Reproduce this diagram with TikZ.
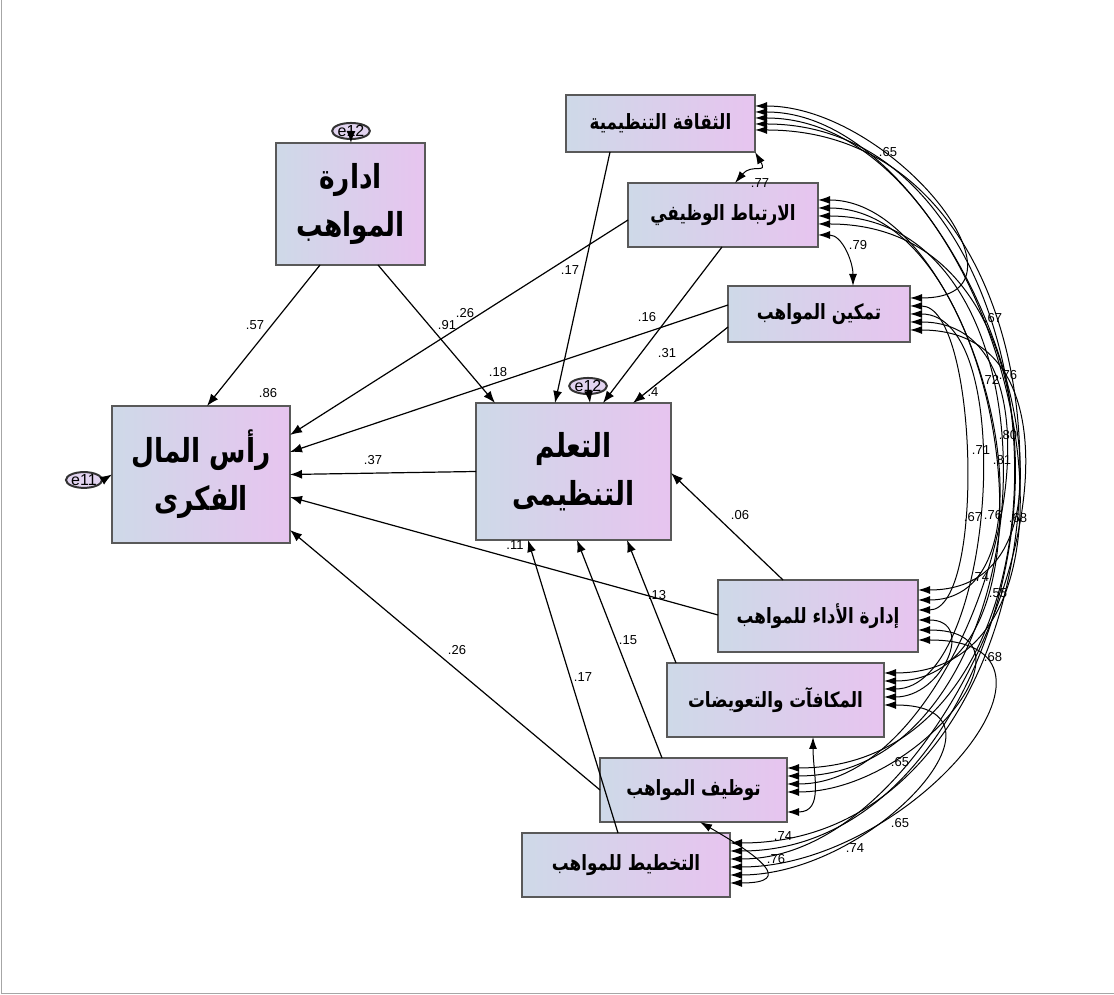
\documentclass[tikz,border=0pt]{standalone}
\usepackage{fontspec}
\setmainfont{Liberation Sans}
\newfontfamily\arabicfont[Script=Arabic,FakeStretch=0.8]{DejaVu Sans}
\TeXXeTstate=1
\usepackage{xcolor}
\usepackage{tikz}
\usetikzlibrary{positioning,calc,shapes.geometric,arrows.meta}

\definecolor{boxleft}{RGB}{206,217,232}
\definecolor{boxright}{RGB}{231,196,239}
\definecolor{errfill}{RGB}{226,212,240}

\begin{document}
\begin{tikzpicture}[
  x=0.5pt, y=0.5pt,
  var/.style={draw=black!65, line width=1pt, left color=boxleft, right color=boxright,
    inner sep=0pt, outer sep=0pt, align=center,
    font=\arabicfont\bfseries\fontsize{10.5}{13}\selectfont},
  bigvar/.style={var, font=\arabicfont\bfseries\fontsize{16.5}{24}\selectfont},
  err/.style={ellipse, draw=black!80, line width=1pt, fill=errfill, inner sep=0pt,
    font=\fontsize{8}{8}\selectfont},
  reg/.style={-{Latex[length=6pt,width=4.5pt]}, line width=0.6pt},
  cov/.style={{Latex[length=6pt,width=4pt]}-{Latex[length=6pt,width=4pt]}, line width=0.5pt},
  coef/.style={font=\fontsize{6.5}{7}\selectfont, inner sep=0pt}
]

\useasboundingbox (0,0) rectangle (1114,995);
\draw[gray!70] (1,995) -- (1,2) -- (1114,2);

% Main variables
\node[bigvar, minimum width=74.5pt, minimum height=61pt] (idara) at (350.5,791) {\beginR ادارة\endR\\\beginR المواهب\endR};
\node[bigvar, minimum width=89pt, minimum height=68.5pt] (ras) at (201,520.5) {\beginR رأس المال\endR\\\beginR الفكرى\endR};
\node[bigvar, minimum width=97.5pt, minimum height=68.5pt] (taallum) at (573.5,523.5) {\beginR التعلم\endR\\\beginR التنظيمى\endR};

% Dimensions on the right
\node[var, minimum width=94.5pt, minimum height=28.5pt] (thaqafa) at (660.5,871.5) {\beginR الثقافة التنظيمية\endR};
\node[var, minimum width=95pt, minimum height=32pt] (irtibat) at (723,780) {\beginR الارتباط الوظيفي\endR};
\node[var, minimum width=91pt, minimum height=28pt] (tamkin) at (819,681) {\beginR تمكين المواهب\endR};
\node[var, minimum width=100pt, minimum height=36pt] (adaa) at (818,379) {\beginR إدارة الأداء للمواهب\endR};
\node[var, minimum width=108.5pt, minimum height=37pt] (makafaat) at (775.5,295) {\beginR المكافآت والتعويضات\endR};
\node[var, minimum width=93.5pt, minimum height=32pt] (tawzif) at (693.5,205) {\beginR توظيف المواهب\endR};
\node[var, minimum width=104pt, minimum height=32pt] (takhtit) at (626,130) {\beginR التخطيط للمواهب\endR};

% Error terms
\node[err] (e12a) at (351,864) {e12};
\node[err] (e11) at (84,515) {e11};
\node[err] (e12b) at (588,609) {e12};
\draw[reg] (e12a) -- (idara);
\draw[reg] (e11.east) -- (ras.west);
\draw[reg] (e12b) -- ($(taallum.north)+(16.5,0)$);

% Paths
\draw[reg] ($(idara.south)+(-30.5,0)$) -- ($(ras.north)+(6,0)$);
\draw[reg] ($(idara.south)+(27.5,0)$) -- ($(taallum.north)+(-78.5,0)$);
\draw[reg] ($(thaqafa.south)+(-50.5,0)$) -- ($(taallum.north)+(-18.5,0)$);
\draw[reg] ($(irtibat.west)+(0,-5)$) -- ($(ras.east)+(0,39.5)$);
\draw[reg] ($(irtibat.south)+(-1,0)$) -- ($(taallum.north)+(29.5,0)$);
\draw[reg] ($(tamkin.west)+(0,9)$) -- ($(ras.east)+(0,22.5)$);
\draw[reg] ($(tamkin.west)+(0,-13)$) -- ($(taallum.north)+(59.5,0)$);
\draw[reg] (taallum.west) -- (ras.east);
\draw[reg] ($(adaa.north)+(-35,0)$) -- ($(taallum.east)+(0,-1.5)$);
\draw[reg] ($(adaa.west)+(0,1)$) -- ($(ras.east)+(0,-22.5)$);
\draw[reg] (tawzif.west) -- ($(ras.east)+(0,-55.5)$);
\draw[reg] ($(takhtit.north)+(-8,0)$) -- ($(taallum.south)+(-45.5,0)$);
\draw[reg] ($(tawzif.north)+(-31.5,0)$) -- ($(taallum.south)+(3.5,0)$);
\draw[reg] ($(makafaat.north)+(-99.5,0)$) -- ($(taallum.south)+(53.5,0)$);

% Covariances
\draw[cov] (thaqafa.south east) to[out=-60,in=50,looseness=1.8] ($(irtibat.north)+(12,0)$);
\draw[cov] ($(irtibat.east)+(0,-20)$) to[out=0,in=90,looseness=1] ($(tamkin.north)+(34,0)$);
\draw[cov] ($(makafaat.south)+(37.5,0)$) to[out=-90,in=0,looseness=1.2] ($(tawzif.east)+(0,-22)$);
\draw[cov] ($(tawzif.south)+(6.5,0)$) to[out=-30,in=0,looseness=2.5] ($(takhtit.east)+(0,-18)$);
\draw[cov] ($(thaqafa.east)+(0,17.5)$) to[out=0,in=0,looseness=1.41] ($(tamkin.east)+(0,16)$);
\draw[cov] ($(thaqafa.east)+(0,11.5)$) to[out=0,in=0,looseness=1.07] ($(adaa.east)+(0,26)$);
\draw[cov] ($(thaqafa.east)+(0,5.5)$) to[out=0,in=0,looseness=1.11] ($(makafaat.east)+(0,27)$);
\draw[cov] ($(thaqafa.east)+(0,-0.5)$) to[out=0,in=0,looseness=1.27] ($(tawzif.east)+(0,22)$);
\draw[cov] ($(thaqafa.east)+(0,-6.5)$) to[out=0,in=0,looseness=1.31] ($(takhtit.east)+(0,22)$);
\draw[cov] ($(irtibat.east)+(0,15)$) to[out=0,in=0,looseness=0.97] ($(adaa.east)+(0,16)$);
\draw[cov] ($(irtibat.east)+(0,7)$) to[out=0,in=0,looseness=1.01] ($(makafaat.east)+(0,19)$);
\draw[cov] ($(irtibat.east)+(0,-1)$) to[out=0,in=0,looseness=1.2] ($(tawzif.east)+(0,14)$);
\draw[cov] ($(irtibat.east)+(0,-9)$) to[out=0,in=0,looseness=1.26] ($(takhtit.east)+(0,14)$);
\draw[cov] ($(tamkin.east)+(0,8)$) to[out=0,in=0,looseness=0.57] ($(adaa.east)+(0,6)$);
\draw[cov] (tamkin.east) to[out=0,in=0,looseness=0.75] ($(makafaat.east)+(0,11)$);
\draw[cov] ($(tamkin.east)+(0,-8)$) to[out=0,in=0,looseness=1.01] ($(tawzif.east)+(0,6)$);
\draw[cov] ($(tamkin.east)+(0,-16)$) to[out=0,in=0,looseness=1.09] ($(takhtit.east)+(0,6)$);
\draw[cov] ($(adaa.east)+(0,-4)$) to[out=0,in=0,looseness=1.78] ($(makafaat.east)+(0,3)$);
\draw[cov] ($(adaa.east)+(0,-14)$) to[out=0,in=0,looseness=1.59] ($(tawzif.east)+(0,-2)$);
\draw[cov] ($(adaa.east)+(0,-24)$) to[out=0,in=0,looseness=1.57] ($(takhtit.east)+(0,-2)$);
\draw[cov] ($(makafaat.east)+(0,-5)$) to[out=0,in=0,looseness=1.6] ($(takhtit.east)+(0,-10)$);

% Path coefficients
\node[coef] (w1) at (255,670) {.57};
\node[coef] (w2) at (447,670) {.91};
\node[coef] (w3) at (465,682) {.26};
\node[coef] (w4) at (570,725) {.17};
\node[coef] (w5) at (647,678) {.16};
\node[coef] (w6) at (498,623) {.18};
\node[coef] (w7) at (667,642) {.31};
\node[coef] (w8) at (653,603) {.4};
\node[coef] (w9) at (268,602) {.86};
\node[coef] (w10) at (373,535) {.37};
\node[coef] (w11) at (740,480) {.06};
\node[coef] (w12) at (657,400) {.13};
\node[coef] (w13) at (457,345) {.26};
\node[coef] (w14) at (515,450) {.11};
\node[coef] (w15) at (583,318) {.17};
\node[coef] (w16) at (628,355) {.15};

% Correlations
\node[coef] (r1) at (760,812) {.77};
\node[coef] (r2) at (888,843) {.65};
\node[coef] (r3) at (858,750) {.79};
\node[coef] (r4) at (993,677) {.67};
\node[coef] (r5) at (1008,620) {.76};
\node[coef] (r6) at (990,615) {.72};
\node[coef] (r7) at (1008,560) {.80};
\node[coef] (r8) at (981,545) {.71};
\node[coef] (r9) at (1002,535) {.81};
\node[coef] (r10) at (973,478) {.67};
\node[coef] (r11) at (993,480) {.76};
\node[coef] (r12) at (1018,477) {.68};
\node[coef] (r13) at (980,418) {.74};
\node[coef] (r14) at (998,402) {.55};
\node[coef] (r15) at (993,338) {.68};
\node[coef] (r16) at (900,233) {.65};
\node[coef] (r17) at (900,172) {.65};
\node[coef] (r18) at (855,147) {.74};
\node[coef] (r19) at (783,159) {.74};
\node[coef] (r20) at (776,136) {.76};

\end{tikzpicture}
\end{document}
